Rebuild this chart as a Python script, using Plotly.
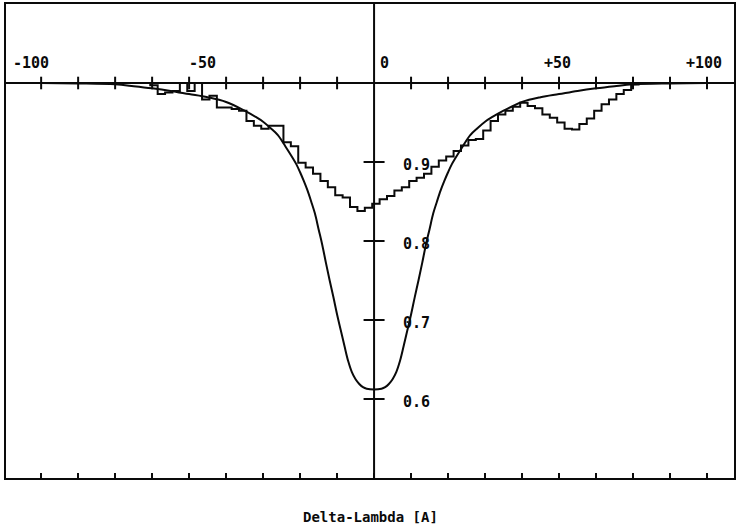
import plotly.graph_objects as go

# ---------------- data ----------------
# observed spectrum, step histogram (bin centres, 2 A wide bins)
hist_centers = [-61.5, -59.5, -57.5, -55.5, -53.5, -51.5, -49.5, -47.5, -45.5, -43.5,
                -41.5, -39.5, -37.5, -35.5, -33.5, -31.5, -29.5, -27.5, -25.5, -23.5,
                -21.5, -19.5, -17.5, -15.5, -13.5, -11.5, -9.5, -7.5, -5.5, -3.5,
                -1.5, 0.5, 2.5, 4.5, 6.5, 8.5, 10.5, 12.5, 14.5, 16.5,
                18.5, 20.5, 22.5, 24.5, 26.5, 28.5, 30.5, 32.5, 34.5, 36.5,
                38.5, 40.5, 42.5, 44.5, 46.5, 48.5, 50.5, 52.5, 54.5, 56.5,
                58.5, 60.5, 62.5, 64.5, 66.5, 68.5, 70.5, 72.5]
hist_values = [1.000, 0.997, 0.986, 0.988, 0.990, 1.000, 0.990, 1.000, 0.979, 0.984,
               0.969, 0.969, 0.967, 0.965, 0.952, 0.946, 0.942, 0.946, 0.946, 0.925,
               0.920, 0.899, 0.893, 0.885, 0.876, 0.868, 0.858, 0.855, 0.843, 0.838,
               0.842, 0.847, 0.853, 0.857, 0.864, 0.868, 0.876, 0.880, 0.885, 0.894,
               0.902, 0.907, 0.914, 0.921, 0.928, 0.929, 0.940, 0.952, 0.960, 0.965,
               0.970, 0.975, 0.971, 0.968, 0.960, 0.956, 0.950, 0.942, 0.941, 0.948,
               0.955, 0.965, 0.973, 0.979, 0.986, 0.991, 0.998, 1.000]
bin_width = 2.0

# model profile (smooth curve)
model_x = [-100, -90, -80, -70, -65, -60, -55, -50, -45, -40, -35, -32, -30, -28, -26, -24,
           -22, -21, -20, -19, -18, -17, -16, -15, -14, -13, -12, -11, -10, -9, -8, -7,
           -6, -5, -4, -3, -2, 0, 2, 3, 4, 5, 6, 7, 8, 9, 10, 11, 12, 13, 14, 15, 16, 17,
           18, 19, 20, 21, 22, 24, 26, 28, 30, 32, 35, 40, 45, 50, 55, 60, 65, 70, 80, 90, 100]
model_y = [1.000, 1.000, 0.9995, 0.9983, 0.996, 0.9933, 0.990, 0.986, 0.982, 0.976, 0.965,
           0.957, 0.951, 0.943, 0.934, 0.920, 0.905, 0.897, 0.887, 0.876, 0.864, 0.850,
           0.835, 0.815, 0.795, 0.772, 0.750, 0.729, 0.707, 0.687, 0.667, 0.648, 0.634,
           0.625, 0.619, 0.615, 0.613, 0.612, 0.613, 0.615, 0.619, 0.625, 0.634, 0.648,
           0.667, 0.687, 0.707, 0.729, 0.750, 0.772, 0.795, 0.815, 0.835, 0.850, 0.864,
           0.876, 0.887, 0.897, 0.905, 0.920, 0.934, 0.943, 0.951, 0.957, 0.965, 0.976,
           0.982, 0.986, 0.990, 0.9933, 0.996, 0.9983, 0.9995, 1.000, 1.000]

# axis ticks and labels
x_minor_ticks = [-90, -80, -70, -60, -50, -40, -30, -20, -10, 10, 20, 30, 40, 50, 60, 70, 80, 90]
y_ticks = [0.6, 0.7, 0.8, 0.9]
x_label_text = ["-100", "-50", "0", "+50", "+100"]
x_label_pos = [-92.7, -46.5, 2.7, 49.7, 89.2]
y_label_text = ["0.9", "0.8", "0.7", "0.6"]
y_label_val = [0.9, 0.8, 0.7, 0.6]
x_title = "Delta-Lambda [A]"

# ---------------- figure ----------------
FONT = "DejaVu Sans Mono"
INK = "#0a0a0a"
LW = 2.0

step_x = [c - bin_width / 2 for c in hist_centers] + [hist_centers[-1] + bin_width / 2]
step_y = hist_values + [hist_values[-1]]

fig = go.Figure()

fig.add_trace(go.Scatter(x=step_x, y=step_y, mode="lines", line_shape="hv",
                         line=dict(color=INK, width=LW), hoverinfo="skip"))
fig.add_trace(go.Scatter(x=model_x, y=model_y, mode="lines", line_shape="spline",
                         line=dict(color=INK, width=LW), hoverinfo="skip"))

# tick marks crossing the central axes
fig.add_trace(go.Scatter(x=x_minor_ticks, y=[1.0] * len(x_minor_ticks), mode="markers",
                         marker=dict(symbol="line-ns", size=9, color=INK,
                                     line=dict(width=LW, color=INK)),
                         hoverinfo="skip"))
fig.add_trace(go.Scatter(x=[0] * len(y_ticks), y=y_ticks, mode="markers",
                         marker=dict(symbol="line-ew", size=15, color=INK,
                                     line=dict(width=LW, color=INK)),
                         hoverinfo="skip"))

# central axes
fig.add_shape(type="line", xref="paper", yref="y", x0=0, x1=1, y0=1.0, y1=1.0,
              line=dict(color=INK, width=LW))
fig.add_shape(type="line", xref="x", yref="paper", x0=0, x1=0, y0=0, y1=1,
              line=dict(color=INK, width=LW))

annotations = []
for t, xp in zip(x_label_text, x_label_pos):
    annotations.append(dict(x=xp, y=1.025, xref="x", yref="y", text=t, showarrow=False,
                            font=dict(family=FONT, size=15, color=INK, weight="bold"),
                            xanchor="center", yanchor="middle"))
for t, yv in zip(y_label_text, y_label_val):
    annotations.append(dict(x=11.4, y=yv - 0.004, xref="x", yref="y", text=t, showarrow=False,
                            font=dict(family=FONT, size=15, color=INK, weight="bold"),
                            xanchor="center", yanchor="middle"))
annotations.append(dict(x=0.5, y=-0.082, xref="paper", yref="paper", text=x_title,
                        showarrow=False, font=dict(family=FONT, size=14, color=INK, weight="bold"),
                        xanchor="center", yanchor="middle"))

fig.update_layout(
    width=740, height=528,
    margin=dict(l=6, r=6, t=2, b=50),
    paper_bgcolor="white", plot_bgcolor="white",
    showlegend=False,
    annotations=annotations,
    xaxis=dict(range=[-99.5, 97.3], showgrid=False, zeroline=False,
               showline=True, mirror=True, linecolor=INK, linewidth=LW,
               ticks="inside", tickvals=x_minor_ticks + [0], ticklen=5, tickwidth=1.6,
               tickcolor=INK, showticklabels=False),
    yaxis=dict(range=[0.5, 1.1], showgrid=False, zeroline=False,
               showline=True, mirror=True, linecolor=INK, linewidth=LW,
               ticks="", showticklabels=False),
)

fig.write_html("out.html")
